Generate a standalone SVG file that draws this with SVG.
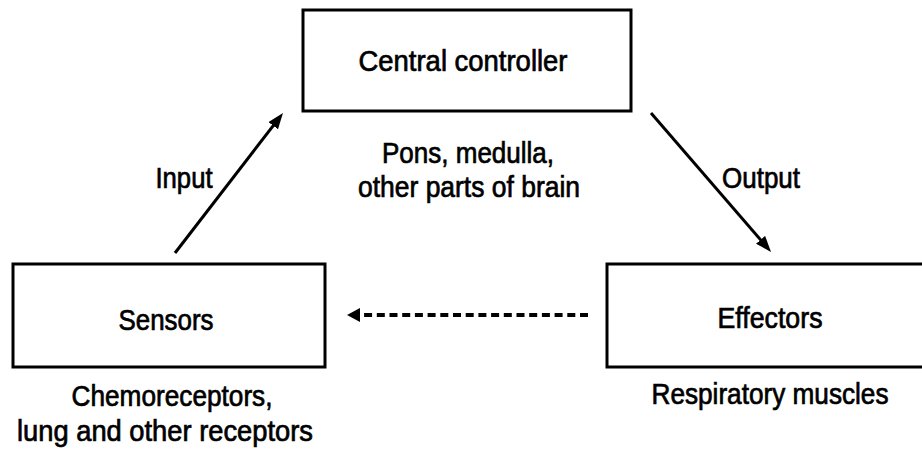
<svg xmlns="http://www.w3.org/2000/svg" width="922" height="451" viewBox="0 0 922 451">
<style>
  .box { fill: #fff; stroke: #000; stroke-width: 3; }
  .lbl { font-family: "Liberation Sans", Arial, sans-serif; font-size: 29px; fill: #000; stroke: #000; stroke-width: 0.7; text-anchor: middle; }
  .conn { stroke: #000; stroke-width: 3; fill: none; }
  .dash { stroke: #000; stroke-width: 4; fill: none; stroke-dasharray: 8 4.7; }
</style>
<defs>
  <marker id="ah" markerUnits="userSpaceOnUse" markerWidth="16" markerHeight="12" refX="8" refY="6" orient="auto">
    <path d="M0,0 L16,6 L0,12 z" fill="#000"/>
  </marker>
  <marker id="ahd" markerUnits="userSpaceOnUse" markerWidth="13" markerHeight="14" refX="4" refY="7" orient="auto">
    <path d="M0,0 L13,7 L0,14 z" fill="#000"/>
  </marker>
</defs>
<rect width="922" height="451" fill="#fff"/>
<g id="central-controller">
  <rect class="box" x="303" y="10" width="328" height="101"/>
  <text class="lbl" x="463" y="71" textLength="209" lengthAdjust="spacingAndGlyphs">Central controller</text>
  <text class="lbl" x="468" y="163" textLength="172" lengthAdjust="spacingAndGlyphs">Pons, medulla,</text>
  <text class="lbl" x="469" y="197" textLength="222" lengthAdjust="spacingAndGlyphs">other parts of brain</text>
</g>
<g id="sensors">
  <rect class="box" x="13" y="264" width="312" height="103"/>
  <text class="lbl" x="166" y="330" textLength="95" lengthAdjust="spacingAndGlyphs">Sensors</text>
  <text class="lbl" x="172" y="406" textLength="201" lengthAdjust="spacingAndGlyphs">Chemoreceptors,</text>
  <text class="lbl" x="165" y="441" textLength="296" lengthAdjust="spacingAndGlyphs">lung and other receptors</text>
</g>
<g id="effectors">
  <rect class="box" x="607" y="264" width="330" height="103"/>
  <text class="lbl" x="770" y="328" textLength="105" lengthAdjust="spacingAndGlyphs">Effectors</text>
  <text class="lbl" x="770" y="404" textLength="237" lengthAdjust="spacingAndGlyphs">Respiratory muscles</text>
</g>
<g id="connectors">
  <line class="conn" x1="175" y1="253" x2="278.1" y2="119.3" marker-end="url(#ah)"/>
  <text class="lbl" x="184" y="188" textLength="57" lengthAdjust="spacingAndGlyphs">Input</text>
  <line class="conn" x1="651" y1="113" x2="765.8" y2="245.9" marker-end="url(#ah)"/>
  <text class="lbl" x="761" y="188" textLength="78" lengthAdjust="spacingAndGlyphs">Output</text>
  <line class="dash" x1="588" y1="315" x2="356" y2="315" marker-end="url(#ahd)"/>
</g>
</svg>
